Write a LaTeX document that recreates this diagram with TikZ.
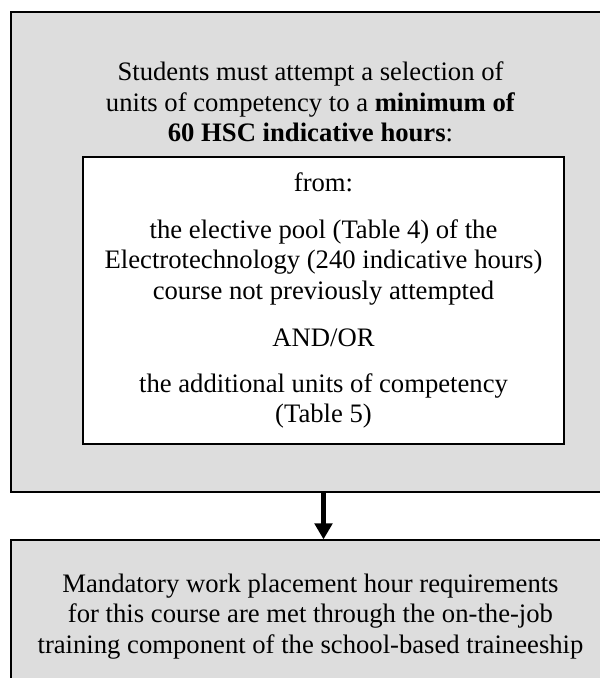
\documentclass[tikz,border=0pt]{standalone}
\usepackage{fontspec}
\setmainfont{Liberation Serif}
\usetikzlibrary{fit,arrows.meta}
\begin{document}
\begin{tikzpicture}[x=0.45pt,y=-0.45pt,
  panel/.style={draw=black,line width=0.55pt,fill=boxgray,inner sep=0pt},
  listbox/.style={draw=black,line width=0.7pt,fill=white,inner sep=0pt},
  txt/.style={anchor=base,inner sep=0pt,font=\fontsize{12}{13.8}\selectfont},
  flow/.style={line width=2.4pt,-{Triangle[width=7.8pt,length=7.2pt]}}]
\definecolor{boxgray}{RGB}{221,221,221}
\useasboundingbox (0,0) rectangle (600,678);
\clip (0,0) rectangle (600,678);
\fill[white] (0,0) rectangle (600,678);

% outer requirement panel
\coordinate (o1) at (11,12);
\coordinate (o2) at (610,492);
\node[panel,fit=(o1)(o2)] (outer) {};

% inner list of sources
\coordinate (i1) at (83,157);
\coordinate (i2) at (564,444);
\node[listbox,fit=(i1)(i2)] (inner) {};

% work placement panel
\coordinate (b1) at (11,540);
\coordinate (b2) at (610,720);
\node[panel,fit=(b1)(b2)] (placement) {};

% heading text
\node[txt] (h1) at (310.5,80.7) {Students must attempt a selection of};
\node[txt] (h2) at (310.5,111.3) {units of competency to a \textbf{minimum of}};
\node[txt] (h3) at (310.5,141.9) {\textbf{60 HSC indicative hours}:};

% list text
\node[txt] (s1) at (323.5,191.7) {from:};
\node[txt] (s2) at (323.5,238.1) {the elective pool (Table 4) of the};
\node[txt] (s3) at (323.5,268.8) {Electrotechnology (240 indicative hours)};
\node[txt] (s4) at (323.5,299.5) {course not previously attempted};
\node[txt] (s5) at (323.5,346) {AND/OR};
\node[txt] (s6) at (323.5,392.2) {the additional units of competency};
\node[txt] (s7) at (323.5,422.9) {(Table 5)};

% placement text
\node[txt] (p1) at (310.5,592.3) {Mandatory work placement hour requirements};
\node[txt] (p2) at (310.5,622.8) {for this course are met through the on-the-job};
\node[txt] (p3) at (310.5,653.3) {training component of the school-based traineeship};

% connector
\draw[flow] (inner.south |- outer.south) -- (inner.south |- placement.north);
\end{tikzpicture}
\end{document}
